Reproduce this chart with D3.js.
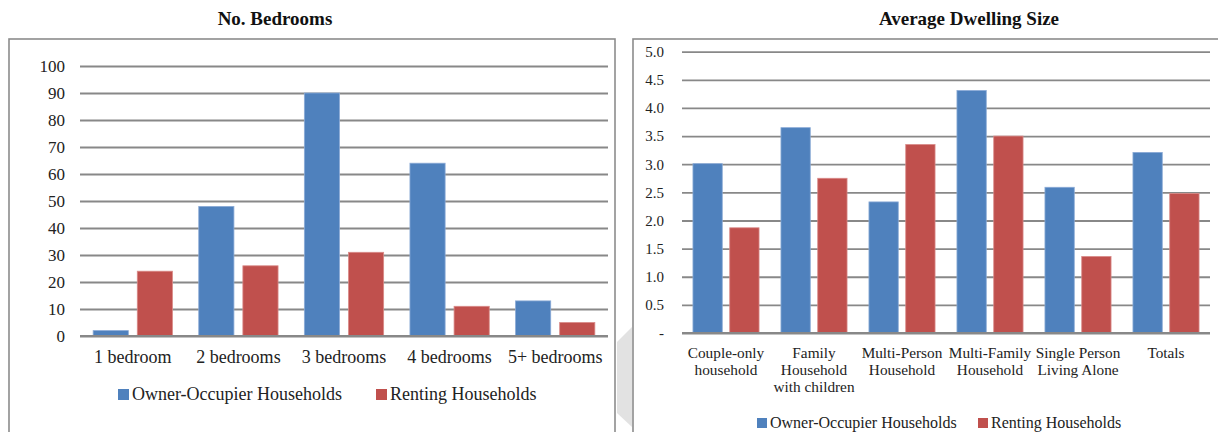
<!DOCTYPE html>
<html>
<head>
<meta charset="utf-8">
<script src="https://cdn.jsdelivr.net/npm/d3@7"></script>
<style>
  html, body { margin: 0; padding: 0; background: #fff; }
  svg { display: block; }
  svg text { font-family: "Liberation Serif", "Times New Roman", Times, serif; }
</style>
</head>
<body>
<svg id="chart" width="1218" height="432"></svg>
<script>
// ---- Data ----
const seriesNames = ["Owner-Occupier Households", "Renting Households"];
const seriesColors = ["#4F81BD", "#C0504D"];
const seriesEdges = ["#8aaad6", "#d98a88"];

// Bedrooms panel
const bedroomCategories = ["1 bedroom", "2 bedrooms", "3 bedrooms", "4 bedrooms", "5+ bedrooms"];
const bedroomOwner = [2, 48, 90, 64, 13];
const bedroomRenting = [24, 26, 31, 11, 5];
const bedroomTicks = [0, 10, 20, 30, 40, 50, 60, 70, 80, 90, 100];

// Dwelling size panel
const dwellingCategories = [
  "Couple-only\nhousehold",
  "Family\nHousehold\nwith children",
  "Multi-Person\nHousehold",
  "Multi-Family\nHousehold",
  "Single Person\nLiving Alone",
  "Totals"
];
const dwellingOwner = [3.01, 3.65, 2.33, 4.31, 2.59, 3.21];
const dwellingRenting = [1.87, 2.75, 3.35, 3.50, 1.36, 2.48];
const dwellingTicks = [0, 0.5, 1.0, 1.5, 2.0, 2.5, 3.0, 3.5, 4.0, 4.5, 5.0];

const FONT = "'Liberation Serif', 'Times New Roman', Times, serif";

const svg = d3.select("#chart");
svg.append("rect").attr("width", 1218).attr("height", 432).attr("fill", "#fff");

// Connector shape between the two panels
svg.append("polygon")
  .attr("points", "632,327 617,342 617,413 632,427")
  .attr("fill", "#e2e2e2");

function drawPanel(cfg) {
  const g = svg.append("g").attr("font-family", FONT);

  // panel frame (runs past the bottom edge)
  g.append("rect")
    .attr("x", cfg.frame[0]).attr("y", cfg.frame[1])
    .attr("width", cfg.frame[2]).attr("height", cfg.frame[3])
    .attr("fill", "none").attr("stroke", "#8c8c8c").attr("stroke-width", 1.6);

  // title
  g.append("text")
    .attr("x", cfg.titleX).attr("y", 25)
    .attr("text-anchor", "middle")
    .attr("font-family", FONT)
    .attr("font-weight", "bold").attr("font-size", cfg.titleFont)
    .attr("fill", "#111")
    .text(cfg.title);

  const x = d3.scaleBand().domain(cfg.categories).range(cfg.xRange).padding(0);
  const sub = d3.scaleBand().domain(seriesNames).range([0, x.bandwidth()])
    .paddingInner(0.203).paddingOuter(0.298);
  const y = d3.scaleLinear().domain(cfg.yDomain).range(cfg.yRange);

  // gridlines + value labels
  const yAxis = d3.axisLeft(y).tickValues(cfg.ticks)
    .tickSize(-(cfg.xRange[1] - cfg.xRange[0]))
    .tickPadding(cfg.tickPad)
    .tickFormat(cfg.tickFormat);
  const ya = g.append("g")
    .attr("transform", `translate(${cfg.xRange[0]},0)`)
    .call(yAxis)
    .attr("font-family", FONT);
  ya.select(".domain").remove();
  ya.selectAll(".tick line").attr("stroke", "#888").attr("stroke-width", 1.8);
  ya.selectAll(".tick text")
    .attr("font-family", FONT)
    .attr("font-size", cfg.tickFont).attr("fill", "#222");

  // bars
  const rows = cfg.categories.map((c, i) => ({
    cat: c,
    vals: [cfg.owner[i], cfg.renting[i]]
  }));
  const groups = g.append("g").selectAll("g").data(rows).join("g")
    .attr("transform", d => `translate(${x(d.cat)},0)`);
  groups.selectAll("rect")
    .data(d => d.vals.map((v, k) => ({ key: seriesNames[k], v, k })))
    .join("rect")
    .attr("x", d => sub(d.key))
    .attr("width", sub.bandwidth())
    .attr("y", d => y(d.v))
    .attr("height", d => y(0) - y(d.v))
    .attr("fill", d => seriesColors[d.k])
    .attr("stroke", d => seriesEdges[d.k])
    .attr("stroke-width", 0.8);

  // baseline over bars
  g.append("line")
    .attr("x1", cfg.xRange[0]).attr("x2", cfg.xRange[1])
    .attr("y1", y(0)).attr("y2", y(0))
    .attr("stroke", "#888").attr("stroke-width", 1.8);

  // category labels
  const labels = g.append("g").selectAll("text").data(cfg.categories).join("text")
    .attr("x", d => x(d) + x.bandwidth() / 2)
    .attr("y", cfg.catY)
    .attr("text-anchor", "middle")
    .attr("font-family", FONT)
    .attr("font-size", cfg.catFont)
    .attr("fill", "#222");
  labels.each(function(d) {
    const t = d3.select(this);
    d.split("\n").forEach((line, i) => {
      t.append("tspan").attr("x", x(d) + x.bandwidth() / 2)
        .attr("dy", i === 0 ? 0 : cfg.catLine).text(line);
    });
  });

  // legend
  const lg = g.append("g");
  seriesNames.forEach((name, k) => {
    lg.append("rect")
      .attr("x", cfg.legendX[k]).attr("y", cfg.legendY - cfg.legendSq)
      .attr("width", cfg.legendSq).attr("height", cfg.legendSq)
      .attr("fill", seriesColors[k]);
    lg.append("text")
      .attr("x", cfg.legendX[k] + cfg.legendSq + 3).attr("y", cfg.legendY)
      .attr("font-family", FONT)
      .attr("font-size", cfg.legendFont).attr("fill", "#222")
      .text(name);
  });
}

drawPanel({
  frame: [9, 39, 606, 420],
  title: "No. Bedrooms", titleX: 275, titleFont: 19,
  categories: bedroomCategories,
  owner: bedroomOwner, renting: bedroomRenting,
  ticks: bedroomTicks,
  xRange: [80, 608], yDomain: [0, 100], yRange: [336, 66],
  tickFormat: d3.format("d"), tickFont: 17, tickPad: 15,
  catY: 363, catFont: 18, catLine: 17,
  legendX: [118, 376], legendY: 400, legendSq: 11, legendFont: 18
});

drawPanel({
  frame: [633, 39, 600, 420],
  title: "Average Dwelling Size", titleX: 969, titleFont: 19,
  categories: dwellingCategories,
  owner: dwellingOwner, renting: dwellingRenting,
  ticks: dwellingTicks,
  xRange: [682, 1210], yDomain: [0, 5], yRange: [333, 51.7],
  tickFormat: d => d === 0 ? "-" : d3.format(".1f")(d), tickFont: 15, tickPad: 18,
  catY: 358, catFont: 15.3, catLine: 17,
  legendX: [757, 978], legendY: 428, legendSq: 10, legendFont: 16
});
</script>
</body>
</html>
